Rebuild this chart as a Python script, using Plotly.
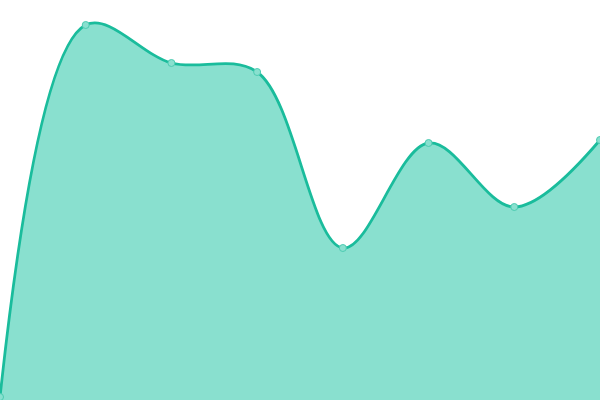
import plotly.graph_objects as go

# categories along the x axis and the one series of values
categories = [0, 1, 2, 3, 4, 5, 6, 7]
values = [3, 375, 337, 328, 152, 257, 193, 260]

LINE = "#1abc9c"
FILL = "#89e0cf"

fig = go.Figure()
fig.add_trace(go.Scatter(
    x=categories,
    y=values,
    mode="lines+markers",
    line=dict(color=LINE, width=2.8, shape="spline", smoothing=1),
    fill="tozeroy",
    fillcolor=FILL,
    marker=dict(size=7, color=FILL, line=dict(color="#4ccbb1", width=1)),
    hoverinfo="skip",
    cliponaxis=False,
))

fig.update_layout(
    width=600,
    height=400,
    margin=dict(l=0, r=0, t=0, b=0, pad=0, autoexpand=False),
    paper_bgcolor="white",
    plot_bgcolor="white",
    showlegend=False,
    xaxis=dict(range=[0, 7], visible=False, fixedrange=True),
    yaxis=dict(range=[0, 400], visible=False, fixedrange=True),
)

# the page body has a default 8px margin; drop it so the chart fills the window
fig.write_html(
    "out.html",
    config={"displayModeBar": False},
    post_script="document.body.style.margin='0';document.body.style.overflow='hidden';",
)
